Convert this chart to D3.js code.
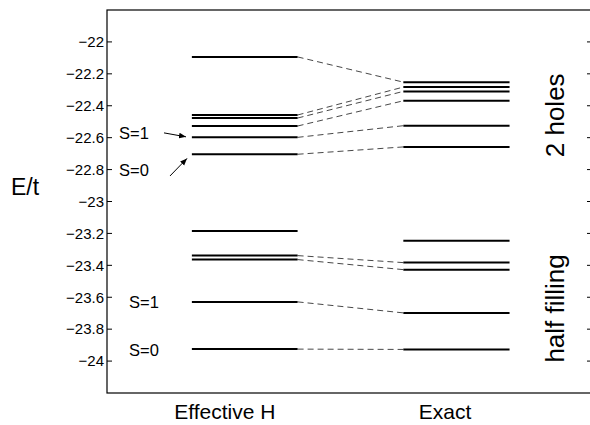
<!DOCTYPE html>
<html><head><meta charset="utf-8">
<script src="https://cdn.jsdelivr.net/npm/d3@7"></script>
<style>body{margin:0;background:#fff}svg{display:block;font-family:"Liberation Sans",Arial,sans-serif}</style>
</head><body><svg id="c" width="590" height="425"></svg>
<script>
// Energy levels (E/t)
const effectiveH = [-22.094, -22.458, -22.477, -22.527, -22.598, -22.704,
                    -23.185, -23.339, -23.364, -23.629, -23.925];
const exact      = [-22.252, -22.283, -22.310, -22.369, -22.525, -22.658,
                    -23.246, -23.383, -23.427, -23.698, -23.927];
// pairs [effective index, exact index] joined by dashed lines
const links = [[0,0],[1,1],[2,2],[3,3],[4,4],[5,5],[7,7],[8,8],[9,9],[10,10]];
const columns = ["Effective H", "Exact"];
const yTicks = [-24, -23.8, -23.6, -23.4, -23.2, -23, -22.8, -22.6, -22.4, -22.2, -22];
const spinLabels = [
  {text: "S=1", at: -22.57, arrow: true},
  {text: "S=0", at: -22.805, arrow: true},
  {text: "S=1", at: -23.63, arrow: false},
  {text: "S=0", at: -23.93, arrow: false}
];
const regions = [{text: "2 holes", at: -22.46}, {text: "half filling", at: -23.67}];

const svg = d3.select("#c");
const L = 107, R = 592, T = 10, B = 393;
const y = d3.scaleLinear().domain([-24.2, -21.8]).range([B, T]);
const x = d3.scaleLinear().domain([0, 1]).range([L, R]);
const colSpan = [[0.175, 0.393], [0.611, 0.830]];
const colLabelX = [0.243, 0.697];

// frame
svg.append("rect").attr("x", L).attr("y", T).attr("width", R - L).attr("height", B - T)
  .attr("fill", "none").attr("stroke", "#000").attr("stroke-width", 1.2);

// left axis, inward ticks
const ax = svg.append("g").attr("transform", `translate(${L},0)`)
  .call(d3.axisLeft(y).tickValues(yTicks).tickSize(0).tickPadding(3)
    .tickFormat(d => d3.format("")(d).replace("-", "\u2212")));
ax.select(".domain").remove();
ax.selectAll("text").attr("font-size", 15).attr("font-family", "Liberation Sans, Arial, sans-serif").attr("fill", "#000");
svg.append("g").selectAll("line").data(yTicks).join("line")
  .attr("x1", L).attr("x2", L + 5).attr("y1", d => y(d)).attr("y2", d => y(d))
  .attr("stroke", "#000").attr("stroke-width", 1);
svg.append("g").selectAll("line").data(yTicks).join("line")
  .attr("x1", R).attr("x2", R - 5).attr("y1", d => y(d)).attr("y2", d => y(d))
  .attr("stroke", "#000").attr("stroke-width", 1);

// dashed links
svg.append("g").selectAll("line").data(links).join("line")
  .attr("x1", x(colSpan[0][1])).attr("y1", d => y(effectiveH[d[0]]))
  .attr("x2", x(colSpan[1][0])).attr("y2", d => y(exact[d[1]]))
  .attr("stroke", "#333").attr("stroke-width", 0.9).attr("stroke-dasharray", "6,4");

// levels
[effectiveH, exact].forEach((arr, i) => {
  svg.append("g").selectAll("line").data(arr).join("line")
    .attr("x1", x(colSpan[i][0])).attr("x2", x(colSpan[i][1]))
    .attr("y1", d => y(d)).attr("y2", d => y(d))
    .attr("stroke", "#000").attr("stroke-width", 2);
});

// column labels
svg.append("g").selectAll("text").data(columns).join("text")
  .attr("x", (d, i) => x(colLabelX[i])).attr("y", 419).attr("text-anchor", "middle")
  .attr("font-size", 21).text(d => d);

// y label
svg.append("text").attr("x", 11).attr("y", 195).attr("font-size", 23).text("E/t");

// spin labels
svg.append("defs").append("marker").attr("id", "ah").attr("viewBox", "0 0 10 10")
  .attr("refX", 10).attr("refY", 5).attr("markerWidth", 7).attr("markerHeight", 7)
  .attr("orient", "auto").attr("markerUnits", "userSpaceOnUse")
  .append("path").attr("d", "M0,1 L10,5 L0,9 Z").attr("fill", "#000");
spinLabels.forEach(s => {
  const tx = s.arrow ? 119 : 129;
  svg.append("text").attr("x", tx).attr("y", y(s.at) + 6).attr("font-size", 16.5).text(s.text);
});
svg.append("line").attr("x1", 164).attr("y1", y(-22.57)).attr("x2", 186).attr("y2", y(-22.598) - 0.5)
  .attr("stroke", "#000").attr("stroke-width", 1).attr("marker-end", "url(#ah)");
svg.append("line").attr("x1", 170).attr("y1", y(-22.84)).attr("x2", 187).attr("y2", y(-22.73))
  .attr("stroke", "#000").attr("stroke-width", 1).attr("marker-end", "url(#ah)");

// region labels (rotated)
regions.forEach(r => {
  svg.append("text").attr("transform", `translate(564,${y(r.at)}) rotate(-90)`)
    .attr("text-anchor", "middle").attr("font-size", 26).text(r.text);
});
</script></body></html>
